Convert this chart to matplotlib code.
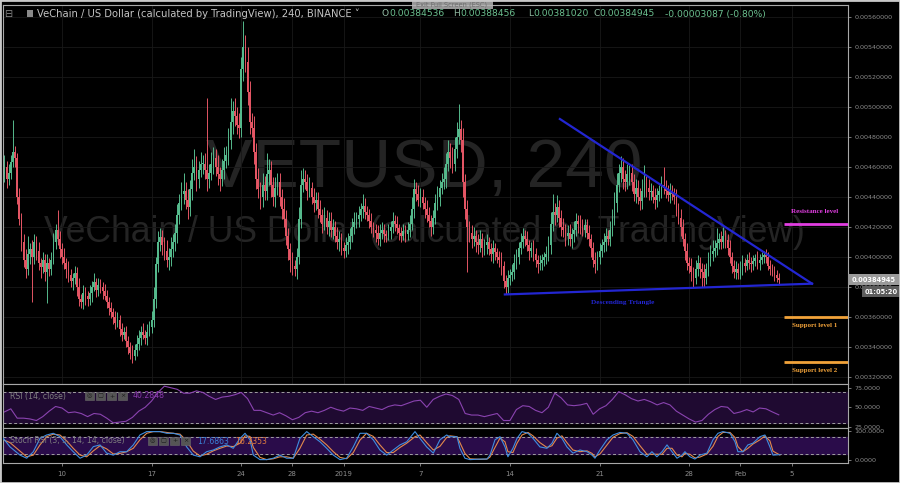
import matplotlib
matplotlib.use("Agg")
import matplotlib.pyplot as plt
import matplotlib.transforms as mtransforms
from matplotlib.patches import Rectangle
import numpy as np

W, H = 900, 483

# VET/USD 4h candles, prices in units of 1e-5 USD, first candle Dec 5 12:00
first_open = 455
closes = [
    460, 452, 456,
    463, 470, 466, 440, 425, 410,  # Dec 6
    398, 392, 402, 405, 400, 410,
    404, 396, 393, 398, 390, 396,
    392, 398, 410, 418, 412, 405,
    400, 396, 392, 388, 384, 386,  # Dec 10
    389, 380, 372, 370, 376, 374,
    372, 376, 380, 383, 378, 381,
    380, 377, 374, 370, 366, 363,
    360, 356, 358, 352, 348, 350,
    344, 340, 336, 334, 338, 342,  # Dec 15
    346, 350, 348, 346, 350, 353,
    358, 372, 395, 410, 413, 408,
    404, 398, 400, 405, 410, 416,
    428, 436, 442, 444, 438, 433,
    445, 456, 460, 452, 458, 462,  # Dec 20
    462, 458, 452, 456, 462, 466,
    460, 455, 452, 458, 464, 468,
    478, 490, 497, 494, 488, 486,
    525, 540, 530, 510, 490, 486,
    470, 452, 445, 440, 448, 444,  # Dec 25
    455, 458, 448, 440, 446, 450,
    440, 432, 425, 414, 405, 398,
    394, 392, 400, 425, 448, 452,
    450, 444, 446, 440, 436, 438,
    432, 428, 422, 426, 420, 424,  # Dec 30
    418, 420, 414, 410, 412, 406,
    404, 408, 410, 414, 420, 423,  # Jan 1
    425, 428, 432, 434, 430, 428,
    424, 420, 418, 416, 412, 416,
    418, 415, 414, 417, 420, 424,
    422, 419, 416, 414, 417, 415,  # Jan 5
    418, 422, 432, 445, 442, 438,
    440, 436, 432, 428, 424, 420,
    426, 436, 440, 446, 450, 452,
    462, 470, 466, 462, 472, 480,
    485, 478, 450, 432, 420, 416,  # Jan 10
    412, 414, 410, 408, 412, 406,
    408, 410, 405, 402, 406, 403,
    400, 398, 394, 384, 380, 386,
    388, 390, 396, 400, 406, 410,
    414, 412, 408, 404, 406, 402,  # Jan 15
    398, 395, 396, 398, 400, 402,
    408, 422, 430, 428, 433, 426,
    420, 418, 414, 416, 412, 415,
    418, 424, 422, 420, 418, 421,
    416, 412, 406, 398, 395, 400,  # Jan 20
    404, 408, 410, 414, 412, 418,
    426, 436, 448, 456, 460, 452,
    450, 455, 456, 450, 442, 446,
    440, 437, 444, 449, 446, 443,
    444, 440, 438, 441, 444, 448,  # Jan 25
    446, 444, 441, 443, 442, 440,
    432, 426, 420, 412, 404, 396,
    394, 390, 386, 392, 396, 392,
    390, 386, 392, 398, 402, 404,
    406, 409, 412, 410, 414, 411,  # Jan 30
    406, 400, 394, 390, 392, 389,
    393, 396, 394, 398, 396, 395,  # Feb 1
    397, 399, 396, 398, 400, 401,
    400, 394, 392, 390, 388, 386,
    384.945,
]
wick_up = [
    8, 4, 6,
    5, 21, 4, 3, 6, 4,
    5, 7, 12, 4, 6, 5,
    4, 6, 3, 5, 4, 6,
    3, 5, 6, 4, 13, 5,
    4, 6, 3, 5, 4, 3,
    5, 4, 6, 3, 5, 4,
    3, 5, 4, 6, 3, 5,
    4, 3, 5, 4, 3, 4,
    3, 4, 5, 3, 4, 3,
    4, 3, 3, 5, 4, 6,
    5, 4, 6, 3, 5, 4,
    6, 8, 5, 7, 6, 5,
    5, 7, 6, 8, 5, 6,
    7, 6, 8, 12, 6, 7,
    6, 9, 12, 7, 6, 8,
    6, 7, 48, 6, 8, 7,
    6, 8, 5, 7, 9, 6,
    8, 16, 7, 9, 6, 8,
    8, 17, 8, 10, 7, 6,
    8, 6, 7, 5, 8, 6,
    14, 7, 6, 5, 7, 6,
    6, 5, 7, 6, 5, 4,
    5, 4, 6, 8, 10, 7,
    6, 5, 7, 4, 6, 5,
    5, 6, 4, 7, 5, 6,
    6, 5, 4, 6, 5, 4,
    4, 5, 6, 5, 6, 7,
    5, 6, 4, 8, 5, 4,
    4, 5, 3, 4, 5, 6,
    5, 4, 3, 5, 4, 6,
    4, 5, 3, 4, 5, 4,
    5, 6, 8, 7, 5, 6,
    6, 5, 4, 6, 5, 4,
    5, 6, 7, 5, 6, 8,
    7, 8, 6, 7, 8, 10,
    17, 6, 8, 5, 6, 4,
    5, 6, 4, 5, 6, 4,
    4, 5, 3, 4, 5, 3,
    3, 4, 5, 3, 4, 5,
    4, 5, 6, 5, 4, 6,
    5, 4, 5, 3, 4, 5,
    4, 3, 5, 4, 3, 5,
    6, 8, 12, 6, 8, 5,
    5, 6, 4, 5, 6, 4,
    6, 5, 4, 6, 5, 4,
    4, 5, 3, 4, 5, 4,
    5, 4, 6, 5, 4, 6,
    6, 7, 8, 6, 7, 6,
    6, 7, 5, 6, 5, 6,
    5, 6, 8, 12, 5, 6,
    5, 4, 6, 5, 4, 6,
    12, 5, 4, 6, 5, 4,
    5, 4, 6, 5, 4, 5,
    4, 5, 3, 6, 5, 4,
    4, 5, 4, 5, 6, 7,
    5, 10, 4, 5, 6, 4,
    4, 5, 3, 4, 5, 4,
    4, 5, 3, 4, 5, 4,
    4, 3, 5, 4, 3, 3,
    4, 3, 4, 3, 4, 3,
    3.5,
]
wick_dn = [
    5, 6, 4,
    4, 3, 6, 5, 4, 6,
    5, 6, 4, 7, 30, 5,
    6, 5, 7, 4, 6, 21,
    5, 4, 3, 5, 4, 6,
    5, 4, 6, 5, 4, 6,
    4, 6, 5, 4, 5, 6,
    5, 4, 6, 3, 5, 4,
    4, 5, 3, 4, 5, 4,
    5, 4, 3, 5, 4, 3,
    4, 5, 4, 5, 3, 4,
    4, 5, 3, 4, 5, 3,
    4, 5, 6, 5, 6, 7,
    6, 5, 7, 6, 5, 6,
    7, 6, 5, 7, 6, 8,
    6, 7, 5, 8, 6, 5,
    7, 6, 8, 6, 5, 7,
    6, 7, 8, 5, 6, 5,
    7, 6, 8, 7, 6, 7,
    6, 8, 7, 9, 8, 6,
    8, 7, 6, 8, 7, 6,
    6, 7, 8, 6, 7, 5,
    6, 7, 5, 6, 7, 8,
    6, 5, 7, 5, 6, 5,
    5, 6, 4, 5, 6, 5,
    6, 5, 6, 4, 5, 6,
    5, 6, 4, 5, 6, 5,
    5, 4, 6, 5, 4, 5,
    4, 5, 4, 6, 5, 4,
    5, 4, 5, 6, 4, 5,
    4, 5, 4, 3, 5, 4,
    5, 4, 5, 4, 3, 5,
    4, 5, 4, 6, 5, 4,
    5, 4, 6, 5, 4, 6,
    5, 4, 5, 6, 4, 5,
    6, 5, 7, 6, 5, 6,
    5, 8, 10, 7, 30, 6,
    6, 5, 7, 6, 5, 6,
    5, 6, 4, 5, 6, 5,
    4, 5, 6, 5, 5, 4,
    5, 4, 5, 4, 5, 4,
    4, 5, 4, 6, 4, 5,
    5, 6, 4, 5, 4, 5,
    5, 6, 5, 7, 5, 6,
    6, 5, 7, 6, 5, 6,
    5, 4, 6, 5, 4, 5,
    4, 5, 6, 5, 6, 4,
    5, 4, 5, 6, 4, 5,
    4, 5, 6, 5, 6, 7,
    6, 5, 7, 6, 5, 6,
    5, 6, 5, 4, 6, 5,
    5, 4, 6, 5, 4, 5,
    4, 5, 4, 5, 4, 5,
    5, 4, 6, 5, 6, 5,
    5, 6, 6, 4, 5, 6,
    10, 6, 4, 5, 4, 5,
    4, 5, 4, 5, 4, 5,
    5, 4, 5, 4, 5, 4,
    4, 5, 4, 3, 4, 5,
    4, 3, 4, 5, 3, 4,
    4, 3, 4, 3, 4, 3,
    3.9,
]

# RSI(14) read every 12h from Dec 5 12:00
rsi_vals = [
    44, 48, 36, 36, 35, 33, 38, 45, 51, 49,
    43, 44, 42, 38, 42, 41, 36, 30, 31, 32,
    37, 45, 50, 58, 69, 77, 75, 73, 68, 68,
    71, 69, 64, 60, 63, 64, 66, 69, 61, 46,
    46, 43, 40, 43, 39, 34, 37, 43, 45, 43,
    46, 50, 47, 45, 49, 48, 46, 51, 49, 47,
    51, 53, 52, 55, 58, 59, 50, 60, 64, 67,
    65, 60, 42, 40, 40, 38, 40, 42, 33, 33,
    47, 52, 51, 46, 43, 50, 68, 62, 53, 52,
    53, 55, 41, 48, 52, 60, 70, 66, 61, 58,
    60, 57, 53, 56, 53, 45, 40, 35, 31, 33,
    41, 47, 51, 50, 42, 44, 47, 44, 49, 48,
    44, 40.3,
]

# Stoch RSI read at turning points, days after Dec 10 00:00
stoch_days = [
    -4.59, -4.06, -3.28, -2.76, -2.24, -1.72, -1.20, -0.68, -0.16, 0.37,
    0.88, 1.41, 1.93, 2.45, 2.97, 3.49, 4.01, 4.53, 5.05, 5.57,
    6.09, 6.62, 7.13, 7.66, 8.18, 8.70, 9.22, 9.74, 10.26, 10.78,
    11.30, 11.82, 12.34, 12.87, 13.38, 13.91, 14.30, 14.69, 14.95, 15.47,
    15.99, 16.51, 17.03, 17.55, 18.07, 18.59, 19.12, 19.63, 20.16, 20.68,
    21.20, 21.72, 22.24, 22.76, 23.28, 23.80, 24.32, 24.84, 25.37, 25.88,
    26.41, 26.93, 27.58, 27.97, 28.49, 29.01, 29.53, 30.05, 30.31, 30.86,
    31.09, 31.48, 31.88, 32.66, 33.20, 33.44, 33.83, 34.22, 34.61, 34.84,
    35.23, 35.55, 35.94, 36.41, 36.80, 37.34, 37.89, 38.28, 38.67, 39.06,
    39.45, 39.92, 40.47, 41.02, 41.41, 41.64, 42.03, 42.58, 43.05, 43.59,
    44.14, 44.61, 45.16, 45.70, 46.09, 46.48, 46.88, 47.27, 47.66, 48.05,
    48.44, 48.67, 49.06, 49.45, 49.84, 50.39, 50.86, 51.25, 51.64, 52.19,
    52.58, 52.81, 53.20, 53.59, 53.98, 54.53, 54.92, 55.31, 55.55, 56.09,
]
stoch_k = [
    75, 45, 16, 5, 28, 75, 87, 93, 81, 52,
    28, 5, 16, 46, 52, 23, 16, 28, 28, 52,
    87, 99, 99, 99, 93, 93, 87, 45, 16, 10,
    28, 34, 45, 52, 40, 75, 93, 70, 16, 0,
    0, 5, 16, 5, 5, 75, 99, 81, 63, 40,
    16, 0, 5, 45, 93, 93, 70, 34, 16, 34,
    52, 63, 99, 75, 45, 23, 70, 87, 81, 81,
    40, 5, 0, 2, 2, 16, 70, 81, 45, 10,
    40, 75, 99, 93, 75, 45, 40, 58, 93, 75,
    45, 23, 34, 28, 16, 5, 34, 70, 87, 96,
    93, 70, 28, 10, 28, 10, 28, 52, 28, 5,
    16, 28, 10, 2, 16, 23, 70, 93, 99, 93,
    63, 28, 28, 52, 58, 81, 87, 45, 16, 17.7,
]
stoch_d = [
    70, 60, 30, 10, 16, 52, 81, 90, 87, 66,
    40, 16, 10, 31, 49, 38, 20, 22, 28, 40,
    70, 93, 99, 99, 96, 93, 90, 66, 30, 13,
    19, 31, 40, 48, 46, 58, 84, 82, 43, 8,
    0, 3, 10, 10, 5, 40, 87, 90, 72, 52,
    28, 8, 3, 25, 69, 93, 82, 52, 25, 25,
    43, 58, 81, 87, 60, 34, 47, 78, 84, 81,
    60, 22, 3, 1, 2, 9, 43, 76, 63, 28,
    25, 58, 87, 96, 84, 60, 43, 49, 76, 84,
    60, 34, 28, 31, 22, 10, 20, 52, 79, 92,
    95, 82, 49, 19, 19, 19, 19, 40, 40, 16,
    10, 22, 19, 6, 9, 20, 47, 82, 96, 96,
    78, 46, 28, 40, 55, 70, 84, 66, 30, 16.2,
]

date_ticks = [0, 7, 14, 18, 22, 28, 35, 42, 49, 53, 57]
date_labels = ["10", "17", "24", "28", "2019", "7", "14", "21", "28", "Feb", "5"]
price_ticks = [320, 340, 360, 380, 400, 420, 440, 460, 480, 500, 520, 540, 560]

tri_days = [34.6, 58.6, 38.9]
tri_prices = [375.0, 382.2, 492.0]
level_prices = [422, 360, 330]
level_names = ["Resistance level", "Support level 1", "Support level 2"]
level_colors = ["#e23ee2", "#f2a33a", "#f2a33a"]

UP, DOWN = "#55b98c", "#e35564"
GRID = "#181818"
AXC = "#8c8c8c"


def rect(x0, y0, x1, y1):
    return [x0 / W, 1 - y1 / H, (x1 - x0) / W, (y1 - y0) / H]


def fx(x):
    return x / W


def fy(y):
    return 1 - y / H


fig = plt.figure(figsize=(9, 4.83), dpi=100, facecolor="black")
ax = fig.add_axes(rect(3, 5, 848, 384))
ax_rsi = fig.add_axes(rect(3, 384, 848, 428), sharex=ax)
ax_st = fig.add_axes(rect(3, 428, 848, 463), sharex=ax)

for a in (ax, ax_rsi, ax_st):
    a.set_facecolor("black")
    for s in a.spines.values():
        s.set_color("#a8a8a8")
        s.set_linewidth(0.8)
    a.yaxis.tick_right()

# candles
c = np.array(closes, dtype=float)
o = np.concatenate([[first_open], c[:-1]])
t = -4.5 + np.arange(len(c)) / 6.0
hi = np.maximum(o, c) + np.array(wick_up)
lo = np.minimum(o, c) - np.array(wick_dn)
cols = np.where(c >= o, UP, DOWN)
ax.vlines(t, lo, hi, colors=cols, linewidth=0.7, zorder=3)
ax.bar(t, np.maximum(np.abs(c - o), 0.7), bottom=np.minimum(o, c), width=0.13,
       color=cols, linewidth=0, zorder=4)

ax.set_xlim(-4.609, 61.41)
ax.set_ylim(315.3, 568.0)
ax.set_yticks(price_ticks)
ax.set_yticklabels([f"{p / 1e5:.8f}" for p in price_ticks])
ax.tick_params(axis="y", colors=AXC, labelsize=4.6, length=2.5, width=0.6, pad=2)
ax.tick_params(axis="x", bottom=False, labelbottom=False)
ax.set_xticks(date_ticks)
ax.grid(True, color=GRID, linewidth=0.6, zorder=0)

# watermark
ax.text(fx(424), fy(187), "VETUSD, 240", transform=fig.transFigure, ha="center",
        va="baseline", fontsize=50, color="#242424", family="Liberation Sans", zorder=1)
ax.text(fx(424), fy(242), "VeChain / US Dollar (calculated by TradingView)",
        transform=fig.transFigure, ha="center", va="baseline", fontsize=25.6,
        color="#242424", family="Liberation Sans", zorder=1)

# descending triangle
ax.plot([tri_days[0], tri_days[1]], [tri_prices[0], tri_prices[1]], color="#2326d2", lw=1.6, zorder=5)
ax.plot([tri_days[2], tri_days[1]], [tri_prices[2], tri_prices[1]], color="#2326d2", lw=1.6, zorder=5)
ax.text(43.8, 369.5, "Descending Triangle", color="#2326d2", fontsize=5.2, ha="center",
        va="center", family="Liberation Serif", fontweight="bold", zorder=6)

# resistance / support levels
for p, name, col in zip(level_prices, level_names, level_colors):
    ax.hlines(p, 56.4, 61.41, color=col, lw=2.0, zorder=5)
    ax.text(58.8, p + 8.5 if name.startswith("Res") else p - 6, name, color=col,
            fontsize=5.0, ha="center", va="center", family="Liberation Serif",
            fontweight="bold", zorder=6)

# last price tag
blend = mtransforms.blended_transform_factory(ax.transAxes, ax.transData)
last = closes[-1]
ax.add_patch(Rectangle((1.0, last - 3.5), 52 / 845, 7.0, transform=blend, fc="#9a9a9a",
                       ec="none", clip_on=False, zorder=7))
ax.text(1.0 + 26 / 845, last, f"{last / 1e5:.8f}", transform=blend, ha="center", va="center",
        fontsize=4.8, color="white", fontweight="bold", clip_on=False, zorder=8)
ax.add_patch(Rectangle((1.0 + 14 / 845, last - 11.6), 38 / 845, 7.0, transform=blend,
                       fc="#5c5c5c", ec="none", clip_on=False, zorder=7))
ax.text(1.0 + 33 / 845, last - 8.1, "01:05:20", transform=blend, ha="center", va="center",
        fontsize=4.8, color="white", fontweight="bold", clip_on=False, zorder=8)

# RSI panel
rsi_t = -4.5 + 0.5 * np.arange(len(rsi_vals))
ax_rsi.set_ylim(23.4, 79.8)
ax_rsi.axhspan(30, 70, color="#1f0a31", zorder=0)
for lvl in (70, 30):
    ax_rsi.axhline(lvl, color="#a0a0a0", lw=0.7, dashes=(3, 2.5), zorder=1)
ax_rsi.plot(rsi_t, rsi_vals, color="#8a43b0", lw=0.8, zorder=2)
ax_rsi.set_yticks([75, 50, 25])
ax_rsi.set_yticklabels(["75.0000", "50.0000", "25.0000"])
ax_rsi.tick_params(axis="y", colors=AXC, labelsize=4.6, length=2.5, width=0.6, pad=2)
ax_rsi.tick_params(axis="x", bottom=False, labelbottom=False)

# Stoch RSI panel
ax_st.set_ylim(-11.9, 111.7)
ax_st.axhspan(20, 80, color="#2a0c4a", zorder=0)
for lvl in (80, 20):
    ax_st.axhline(lvl, color="#a0a0a0", lw=0.7, dashes=(3, 2.5), zorder=1)
ax_st.plot(stoch_days, stoch_d, color="#e3894c", lw=0.8, zorder=2)
ax_st.plot(stoch_days, stoch_k, color="#3f8ee0", lw=0.8, zorder=3)
ax_st.set_yticks([100, 0])
ax_st.set_yticklabels(["100.0000", "0.0000"])
ax_st.tick_params(axis="y", colors=AXC, labelsize=4.6, length=2.5, width=0.6, pad=2)
ax_st.set_xticks(date_ticks)
ax_st.set_xticklabels(date_labels)
ax_st.tick_params(axis="x", colors=AXC, labelsize=5, length=2.5, width=0.6, pad=3)

# header line
fig.text(fx(4), fy(14), "\u229f", color="#8a8a8a", fontsize=7, va="center")
fig.patches.append(Rectangle((fx(27), fy(17)), 6 / W, 7 / H, transform=fig.transFigure,
                             fc="#8a8a8a", ec="none"))
fig.text(fx(37), fy(14), "VeChain / US Dollar (calculated by TradingView), 240, BINANCE \u02c5",
         color="#c4c4c4", fontsize=7.2, va="center")
ohlc = [("O", "0.00384536", 382, 7), ("H", "0.00388456", 453, 7),
        ("L", "0.00381020", 528, 5.5), ("C", "0.00384945", 593, 6.5)]
for letter, val, x, off in ohlc:
    fig.text(fx(x), fy(14), letter, color="#8fb8a0", fontsize=6.6, va="center")
    fig.text(fx(x + off), fy(14), val, color="#6cc190", fontsize=6.6, va="center")
fig.text(fx(665), fy(14), "-0.00003087 (-0.80%)", color="#6cc190", fontsize=6.6, va="center")

fig.patches.append(Rectangle((fx(412), fy(9)), 81 / W, 9 / H, transform=fig.transFigure,
                             fc="#b4b4b4", ec="none", alpha=0.85))
fig.text(fx(452), fy(4.5), "Exit Full Screen (ESC)", color="#6e6e6e", fontsize=4.8,
         ha="center", va="center")

# indicator headers
def icons(x0, yc):
    for k, g in enumerate(["\u25ce", "\u25a2", "+", "\u00d7"]):
        x = x0 + 11 * k
        fig.patches.append(Rectangle((fx(x), fy(yc + 4)), 9 / W, 8 / H,
                                     transform=fig.transFigure, fc="#555555", ec="#6a6a6a", lw=0.4))
        fig.text(fx(x + 4.5), fy(yc), g, color="#1a1a1a", fontsize=4.5, ha="center", va="center")


fig.text(fx(10), fy(396), "RSI (14, close) \u02c5", color="#7e7e7e", fontsize=5.6, va="center")
icons(85, 396)
fig.text(fx(133), fy(396), "40.2848", color="#8a3aac", fontsize=5.6, va="center")
fig.text(fx(10), fy(441), "Stoch RSI (3, 3, 14, 14, close) \u02c5", color="#7e7e7e",
         fontsize=5.6, va="center")
icons(148, 441)
fig.text(fx(197), fy(441), "17.6863", color="#3a82d8", fontsize=5.6, va="center")
fig.text(fx(235), fy(441), "16.2353", color="#e07c3e", fontsize=5.6, va="center")

# outer frame
fig.patches.append(Rectangle((0, 0), 1, 1, transform=fig.transFigure, fill=False,
                             ec="#c8c8c8", lw=2.0))

fig.savefig("out.png", dpi=100, facecolor="black")
